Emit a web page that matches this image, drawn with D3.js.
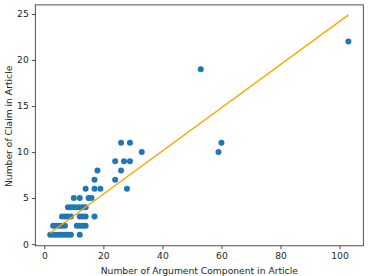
<!DOCTYPE html>
<html><head><meta charset="utf-8">
<script src="https://cdn.jsdelivr.net/npm/d3@7"></script>
<style>body{margin:0;background:#fff}svg{display:block}text{font-family:"DejaVu Sans",sans-serif;fill:#262626}</style>
</head><body><svg id="c" width="369" height="276"></svg>
<script>
const pointsX = [2,3,4,5,6,7,8,9,12, 3,4,5,6,7,11,12,13,14, 6,7,8,9,12,13,14,17, 8,9,10,11,12,13,14, 10,12,15,16, 14,17,19,28, 17,24, 18,26, 24,27,29, 33,59, 26,29,60, 53, 103];
const pointsY = [1,1,1,1,1,1,1,1,1, 2,2,2,2,2,2,2,2,2, 3,3,3,3,3,3,3,3, 4,4,4,4,4,4,4, 5,5,5,5, 6,6,6,6, 7,7, 8,8, 9,9,9, 10,10, 11,11,11, 19, 22];
const fitX = [2, 103];
const fitY = [1.2, 24.9];
const xTicks = [0,20,40,60,80,100];
const yTicks = [0,5,10,15,20,25];
const xLabel = "Number of Argument Component in Article";
const yLabel = "Number of Claim in Article";

const L=35.3,R=363.3,T=4.9,B=245.8;
const svg=d3.select("#c");
const x=d3.scaleLinear().domain([-3.05,108.05]).range([L,R]);
const y=d3.scaleLinear().domain([-0.19,25.99]).range([B,T]);
const fs=9.2;

const gx=svg.append("g").attr("transform",`translate(0,${B})`)
  .call(d3.axisBottom(x).tickValues(xTicks).tickSize(3.5).tickPadding(3).tickFormat(d3.format("d")));
const gy=svg.append("g").attr("transform",`translate(${L},0)`)
  .call(d3.axisLeft(y).tickValues(yTicks).tickSize(3.5).tickPadding(3).tickFormat(d3.format("d")));
[gx,gy].forEach(g=>{g.select(".domain").remove();g.selectAll("line").attr("stroke","#262626").attr("stroke-width",0.8);
  g.selectAll("text").attr("font-size",fs).attr("font-family","DejaVu Sans").attr("fill","#262626");});

const pts=pointsX.map((v,i)=>[v,pointsY[i]]);
svg.append("g").selectAll("circle").data(pts).join("circle")
  .attr("cx",d=>x(d[0])).attr("cy",d=>y(d[1])).attr("r",3).attr("fill","#1f77b4");

svg.append("path").datum(fitX.map((v,i)=>[v,fitY[i]]))
  .attr("d",d3.line().x(d=>x(d[0])).y(d=>y(d[1])))
  .attr("stroke","#FFA500").attr("stroke-width",1.4).attr("fill","none");

svg.append("rect").attr("x",L).attr("y",T).attr("width",R-L).attr("height",B-T)
  .attr("fill","none").attr("stroke","#262626").attr("stroke-width",0.8);

svg.append("text").attr("x",(L+R)/2).attr("y",273.5).attr("text-anchor","middle").attr("font-size",fs).text(xLabel);
svg.append("text").attr("transform",`translate(11.5,${(T+B)/2+1}) rotate(-90)`).attr("text-anchor","middle").attr("font-size",fs).text(yLabel);
</script></body></html>
